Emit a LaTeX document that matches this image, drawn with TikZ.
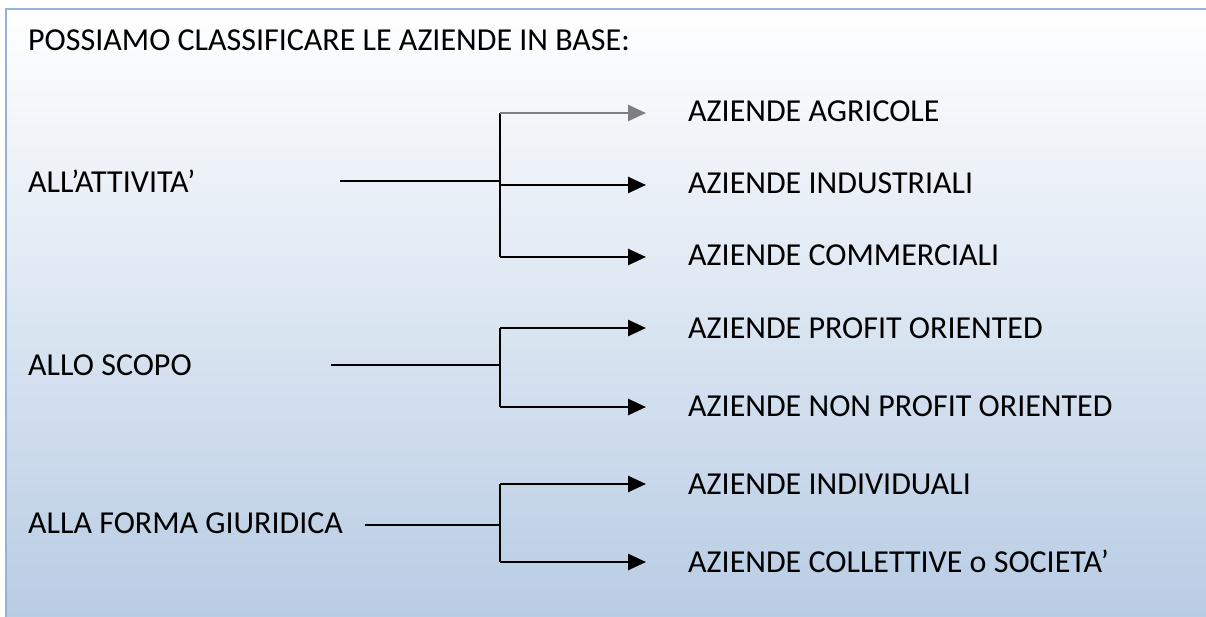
\documentclass[tikz,border=0pt]{standalone}
\usepackage{fontspec}
\setmainfont{Carlito}
\usetikzlibrary{arrows.meta,calc}
\definecolor{frameblue}{HTML}{95B3D7}
\definecolor{bottomblue}{HTML}{B8CCE4}
\definecolor{arrgray}{HTML}{7F7F7F}
\tikzset{
  lbl/.style={anchor=base west, inner sep=0pt, font=\fontsize{32}{38}\selectfont},
  link/.style={line width=2.6pt, black},
  arr/.style={line width=2.6pt, black, -{Triangle[length=18pt,width=16pt]}},
}
\begin{document}
\begin{tikzpicture}[x=1pt,y=-1pt]
\useasboundingbox (0,0) rectangle (1206,617);
\fill[white] (0,0) rectangle (1206,617);
\shade[top color=white, bottom color=bottomblue, middle color={bottomblue!50!white}] (6,9) rectangle (1206,617);
\draw[frameblue, line width=2.5pt] (6,617) -- (6,9) -- (1206,9);

% texts
\node[lbl] (title) at (28,51) {POSSIAMO CLASSIFICARE LE AZIENDE IN BASE:};
\node[lbl] (att) at (28,193) {ALL’ATTIVITA’};
\node[lbl] (scopo) at (28,375) {ALLO SCOPO};
\node[lbl] (forma) at (28,533) {ALLA FORMA GIURIDICA};

\node[lbl] (agr) at (688,122) {AZIENDE AGRICOLE};
\node[lbl] (ind) at (688,194) {AZIENDE INDUSTRIALI};
\node[lbl] (com) at (688,266) {AZIENDE COMMERCIALI};
\node[lbl] (prof) at (688,338) {AZIENDE PROFIT ORIENTED};
\node[lbl] (nprof) at (688,416) {AZIENDE NON PROFIT ORIENTED};
\node[lbl] (indiv) at (688,494) {AZIENDE INDIVIDUALI};
\node[lbl] (coll) at (688,572) {AZIENDE COLLETTIVE o SOCIETA’};

% group 1
\coordinate (a0) at (340,181);
\coordinate (a1) at (500,181);
\coordinate (aT) at (500,113);
\coordinate (aM) at (500,185);
\coordinate (aB) at (500,257);
\draw[link] (a0) -- (a1);
\draw[link] (aT) -- (aB);
\draw[arr, arrgray] (aT) -- ($(agr.west |- aT)+(-42,0)$);
\draw[arr] (aM) -- ($(ind.west |- aM)+(-42,0)$);
\draw[arr] (aB) -- ($(com.west |- aB)+(-42,0)$);

% group 2
\coordinate (b0) at (331,365);
\coordinate (b1) at (500,365);
\coordinate (bT) at (500,328);
\coordinate (bB) at (500,407);
\draw[link] (b0) -- (b1);
\draw[link] (bT) -- (bB);
\draw[arr] (bT) -- ($(prof.west |- bT)+(-42,0)$);
\draw[arr] (bB) -- ($(nprof.west |- bB)+(-42,0)$);

% group 3
\coordinate (c0) at (365,525);
\coordinate (c1) at (500,525);
\coordinate (cT) at (500,484);
\coordinate (cB) at (500,562);
\draw[link] (c0) -- (c1);
\draw[link] (cT) -- (cB);
\draw[arr] (cT) -- ($(indiv.west |- cT)+(-42,0)$);
\draw[arr] (cB) -- ($(coll.west |- cB)+(-42,0)$);
\end{tikzpicture}
\end{document}
